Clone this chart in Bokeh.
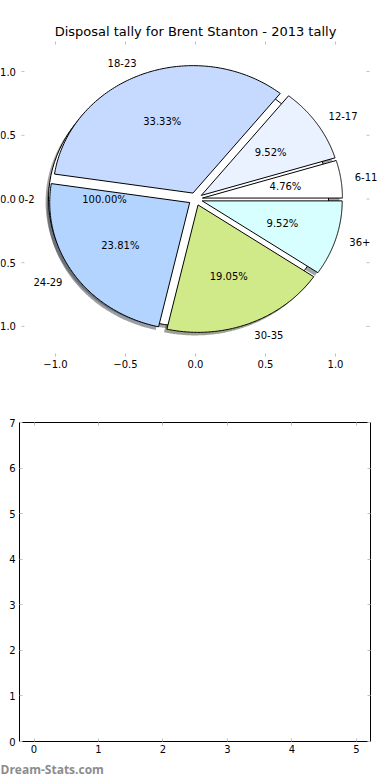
import numpy as np
from bokeh.plotting import figure
from bokeh.models import (ColumnDataSource, LinearAxis, FixedTicker, Range1d, Title)
from bokeh.embed import file_html
from bokeh.resources import INLINE
from bokeh.core.properties import value

# ---------------- data ----------------
title_text = "Disposal tally for Brent Stanton - 2013 tally"
categories = ["6-11", "12-17", "18-23", "24-29", "30-35", "36+"]
tallies = [1, 2, 7, 5, 4, 2]
slice_colors = ["#FFFFFF", "#EAF1FF", "#C6DAFF", "#B3D4FF", "#D0EA8A", "#D8FFFF"]
base_category = ["0-2"]
base_tally = [1]
base_color = ["#FFFFFF"]
explode = 0.05

pie_ticks = [-1.0, -0.5, 0.0, 0.5, 1.0]
pie_tick_labels = ["\u22121.0", "\u22120.5", "0.0", "0.5", "1.0"]
pie_axis_limit = 1.243
bar_xticks = [0, 1, 2, 3, 4, 5]
bar_xtick_labels = ["0", "1", "2", "3", "4", "5"]
bar_yticks = [0, 1, 2, 3, 4, 5, 6, 7]
bar_ytick_labels = ["0", "1", "2", "3", "4", "5", "6", "7"]
watermark = "Dream-Stats.com"

FONT = "DejaVu Sans"
TICK_COLOR = "#c0c0c0"

# ------------- pie geometry (computed from values) -------------
def pie_layout(values):
    total = float(sum(values))
    out = []
    start = 0.0
    for v in values:
        span = 360.0 * v / total
        t1, t2 = start, start + span
        mid = np.radians((t1 + t2) / 2.0)
        cx, cy = explode * np.cos(mid), explode * np.sin(mid)
        th = np.radians(np.linspace(t1, t2, 120))
        if abs(span - 360.0) < 1e-9:
            xs = list(cx + np.cos(th))
            ys = list(cy + np.sin(th))
        else:
            xs = [cx] + list(cx + np.cos(th)) + [cx]
            ys = [cy] + list(cy + np.sin(th)) + [cy]
        out.append(dict(xs=xs, ys=ys, mid=mid, cx=cx, cy=cy,
                        pct="%1.2f%%" % (100.0 * v / total)))
        start = t2
    return out

base = pie_layout(base_tally)
slices = pie_layout(tallies)

def shade(hexcol):
    h = hexcol.lstrip("#")
    r, g, b = (int(h[i:i + 2], 16) for i in (0, 2, 4))
    return "#%02x%02x%02x" % (int(r * 0.3), int(g * 0.3), int(b * 0.3))

SOX, SOY = -0.021, -0.024

all_geo = base + slices
all_cols = base_color + slice_colors
shadow_src = ColumnDataSource(dict(
    xs=[[x + SOX for x in g["xs"]] for g in all_geo],
    ys=[[y + SOY for y in g["ys"]] for g in all_geo],
    color=[shade(c) for c in all_cols]))
base_src = ColumnDataSource(dict(xs=[g["xs"] for g in base],
                                 ys=[g["ys"] for g in base],
                                 color=base_color))
slice_src = ColumnDataSource(dict(xs=[g["xs"] for g in slices],
                                  ys=[g["ys"] for g in slices],
                                  color=slice_colors))

lab_names = base_category + categories
lx, ly, px, py, pt = [], [], [], [], []
for g in all_geo:
    lx.append(g["cx"] + 1.1 * np.cos(g["mid"]))
    ly.append(g["cy"] + 1.1 * np.sin(g["mid"]))
    px.append(g["cx"] + 0.6 * np.cos(g["mid"]))
    py.append(g["cy"] + 0.6 * np.sin(g["mid"]))
    pt.append(g["pct"])
left_idx = [i for i in range(len(lx)) if lx[i] > 0]
right_idx = [i for i in range(len(lx)) if lx[i] <= 0]
lab_left = ColumnDataSource(dict(x=[lx[i] for i in left_idx], y=[ly[i] for i in left_idx],
                                 t=[lab_names[i] for i in left_idx]))
lab_right = ColumnDataSource(dict(x=[lx[i] for i in right_idx], y=[ly[i] for i in right_idx],
                                  t=[lab_names[i] for i in right_idx]))
pct_src = ColumnDataSource(dict(x=px, y=py, t=pt))

# ---------------- top figure (pie) ----------------
PX_PER_UNIT = 140.0
XR = 195.0 / PX_PER_UNIT
YR = 1.236
p = figure(width=390, height=378, x_range=Range1d(-XR, XR), y_range=Range1d(-YR, YR),
           output_backend="svg", toolbar_location=None,
           x_axis_location=None, y_axis_location=None,
           min_border_left=0, min_border_right=0, min_border_top=41, min_border_bottom=22)
p.outline_line_color = None
p.grid.visible = False
p.background_fill_color = "white"
p.border_fill_color = "white"

p.title.text = title_text
p.title.text_font = FONT
p.title.text_font_size = "13px"
p.title.text_font_style = "normal"
p.title.text_color = "black"
p.title.align = "center"
p.title.standoff = 6

def tick_axis(ticks, labels=None, standoff=3, show=True):
    ax = LinearAxis(ticker=FixedTicker(ticks=ticks),
                    axis_line_color=None,
                    major_tick_in=3, major_tick_out=0,
                    major_tick_line_color=TICK_COLOR,
                    minor_tick_line_color=None,
                    major_label_text_font=FONT,
                    major_label_standoff=standoff)
    if show and labels is not None:
        ax.major_label_overrides = {t: l for t, l in zip(ticks, labels)}
        ax.major_label_text_font_size = "10px"
        ax.major_label_text_color = "black"
    else:
        ax.major_label_text_font_size = "0px"
        ax.major_label_text_color = None
        ax.major_label_standoff = 0
    return ax

p.add_layout(tick_axis(pie_ticks, pie_tick_labels, standoff=3), "below")
p.add_layout(tick_axis(pie_ticks, show=False), "above")

# left / right tick marks and left tick labels of the pie axes (at its limits)
n = len(pie_ticks)
p.ray(x=[-pie_axis_limit] * n, y=pie_ticks, length=3, length_units="screen",
      angle=0, line_color=TICK_COLOR, line_width=1)
p.ray(x=[pie_axis_limit] * n, y=pie_ticks, length=3, length_units="screen",
      angle=np.pi, line_color=TICK_COLOR, line_width=1)
p.text(x=[-pie_axis_limit] * n, y=pie_ticks, text=pie_tick_labels, x_offset=-5.5,
       text_align="right", text_baseline="middle",
       text_font=value(FONT), text_font_size="10px", text_color="black")

p.patches("xs", "ys", source=shadow_src, fill_color="color", fill_alpha=0.5, line_color=None)
p.patches("xs", "ys", source=base_src, fill_color="color", line_color="black", line_width=1)
p.patches("xs", "ys", source=slice_src, fill_color="color", line_color="black", line_width=1)

for src, al in ((lab_left, "left"), (lab_right, "right")):
    p.text("x", "y", text="t", source=src, text_align=al, text_baseline="middle",
           text_font=value(FONT), text_font_size="10px", text_color="black")
p.text("x", "y", text="t", source=pct_src, text_align="center", text_baseline="middle",
       text_font=value(FONT), text_font_size="10px", text_color="black")

# ---------------- bottom figure (empty axes) ----------------
q = figure(width=390, height=402, x_range=Range1d(-0.225, 5.22), y_range=Range1d(0, 7),
           output_backend="svg", toolbar_location=None,
           x_axis_location=None, y_axis_location=None,
           min_border_left=19, min_border_right=20, min_border_top=44, min_border_bottom=39)
q.grid.visible = False
q.outline_line_color = "black"
q.outline_line_width = 1
q.background_fill_color = "white"
q.border_fill_color = "white"

q.add_layout(tick_axis(bar_xticks, bar_xtick_labels, standoff=3), "below")
q.add_layout(tick_axis(bar_yticks, bar_ytick_labels, standoff=4), "left")
q.add_layout(tick_axis(bar_xticks, show=False), "above")
q.add_layout(tick_axis(bar_yticks, show=False), "right")

q.add_layout(Title(text=watermark, align="left", offset=-19, standoff=6,
                   text_font="Open Sans", text_font_style="bold",
                   text_font_size="12px", text_color="#8c8c8c"), "below")

# two independent roots, stacked, so the frames are not aligned to each other
open("out.html", "w").write(file_html([p, q], INLINE))
